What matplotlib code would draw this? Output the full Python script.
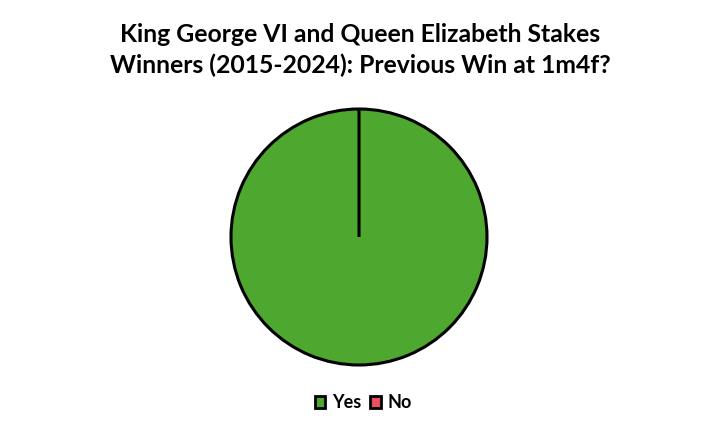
import matplotlib
matplotlib.use('Agg')
import matplotlib.pyplot as plt
from matplotlib.patches import Patch

# Data
labels = ['Yes', 'No']
counts = [10, 0]
colors = ['#4EA72E', '#E8505B']
title_lines = ['King George VI and Queen Elizabeth Stakes',
               'Winners (2015-2024): Previous Win at 1m4f?']

plt.rcParams['font.family'] = ['Lato', 'DejaVu Sans']

fig = plt.figure(figsize=(7.2, 4.33), dpi=100)
# pie centred at (359, 237) px, radius ~128 px
ax = fig.add_axes([(359 - 130) / 720, (433 - 237 - 130) / 433, 260 / 720, 260 / 433])
ax.pie(counts, colors=colors, startangle=90, counterclock=False,
       wedgeprops=dict(edgecolor='black', linewidth=2.2), radius=128 / 130)
ax.set_xlim(-1, 1)
ax.set_ylim(-1, 1)
ax.set_aspect('equal')

# title, one text per line, placed on baselines
for line, base in zip(title_lines, [42, 73]):
    fig.text(0.5, 1 - base / 433, line, ha='center', va='baseline',
             fontsize=17.8, fontweight='bold')

handles = [Patch(facecolor=c, edgecolor='black', linewidth=2, label=l) for c, l in zip(colors, labels)]
fig.legend(handles=handles, loc='center', bbox_to_anchor=(363 / 720, 1 - 403 / 433), ncol=2, frameon=False,
           prop={'weight': 'bold', 'size': 13}, handlelength=0.6, handleheight=0.6,
           handletextpad=0.35, columnspacing=0.5)

fig.savefig('out.png', dpi=100, facecolor='white')
